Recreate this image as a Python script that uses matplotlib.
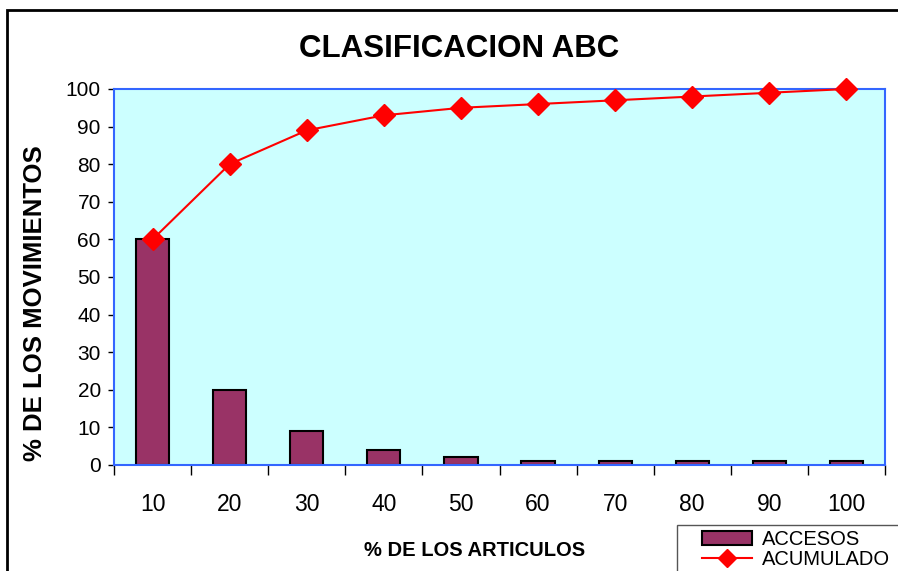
import numpy as np
import matplotlib
matplotlib.use("Agg")
import matplotlib.pyplot as plt
from matplotlib.patches import Rectangle

plt.rcParams['font.family'] = ['Liberation Sans', 'DejaVu Sans']

categories = ['10', '20', '30', '40', '50', '60', '70', '80', '90', '100']
accesos = [60, 20, 9, 4, 2, 1, 1, 1, 1, 1]
acumulado = [60, 80, 89, 93, 95, 96, 97, 98, 99, 100]

W, H = 898, 571
fig = plt.figure(figsize=(W / 100, H / 100), dpi=100)

# outer chart frame (cut at right/bottom edges like the original)
fig.patches.append(Rectangle((7 / W, -0.1), 1.2, 1 - 10 / H + 0.1,
                             transform=fig.transFigure, fill=False,
                             edgecolor='black', linewidth=2, zorder=0))
# legend frame, also running off the edges
fig.patches.append(Rectangle((677 / W, -0.1), 0.5, 1 - 525 / H + 0.1,
                             transform=fig.transFigure, fill=False,
                             edgecolor='#555555', linewidth=1, zorder=0))

ax = fig.add_axes([114 / W, 1 - 465 / H, (885 - 114) / W, (465 - 89) / H])
ax.set_facecolor('#CCFFFF')
for s in ax.spines.values():
    s.set_color('#3366FF')
    s.set_linewidth(1.5)

x = np.arange(len(categories))
bars = ax.bar(x, accesos, width=0.43, color='#993366', edgecolor='black',
              linewidth=1.5, label='ACCESOS', zorder=2)
line, = ax.plot(x, acumulado, color='#FF0000', linewidth=1.5, marker='D',
                markersize=11, label='ACUMULADO', zorder=3, clip_on=False)

ax.set_xlim(-0.5, len(categories) - 0.5)
ax.set_ylim(0, 100)
ax.set_yticks(range(0, 101, 10))
ax.tick_params(axis='y', direction='out', length=4.5, width=1,
               color='black', labelsize=15, pad=5)

ax.set_xticks(np.arange(-0.5, len(categories), 1.0))
ax.set_xticklabels([])
ax.set_xticks(x, minor=True)
ax.set_xticklabels(categories, minor=True)
ax.tick_params(axis='x', which='major', direction='out', length=7,
               width=1, color='black')
ax.tick_params(axis='x', which='minor', length=0, labelsize=16.5, pad=20)

fig.text(459 / W, 1 - 49 / H, 'CLASIFICACION ABC', ha='center',
         va='center', fontsize=22.5, fontweight='bold')
fig.text(35 / W, 1 - 303 / H, '% DE LOS MOVIMIENTOS', ha='center',
         va='center', rotation=90, fontsize=18.5, fontweight='bold')
fig.text(475 / W, 1 - 551 / H, '% DE LOS ARTICULOS', ha='center',
         va='center', fontsize=14.5, fontweight='bold')

leg = fig.legend([bars, line], ['ACCESOS', 'ACUMULADO'], loc='upper left',
                 bbox_to_anchor=(702 / W, 1 - 530 / H),
                 fontsize=14.5, frameon=False, borderaxespad=0, borderpad=0,
                 labelspacing=0.05, handlelength=2.5, handletextpad=0.5,
                 handleheight=0.65)
leg.legend_handles[1].set_markersize(9)

fig.savefig('out.png', dpi=100)
